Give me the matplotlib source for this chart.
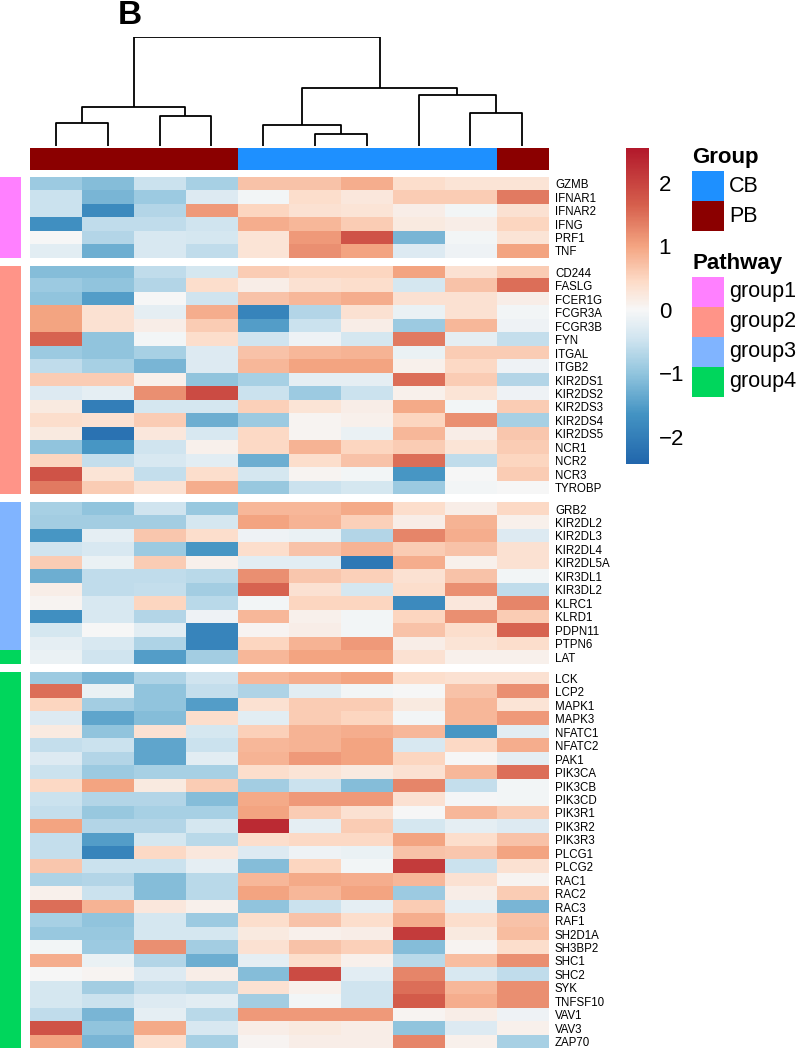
import numpy as np
import matplotlib
matplotlib.use("Agg")
import matplotlib.pyplot as plt
from matplotlib.colors import Normalize, ListedColormap, LinearSegmentedColormap
from matplotlib.patches import Rectangle
import matplotlib.cm as cm

plt.rcParams['font.family'] = ['Liberation Sans', 'DejaVu Sans']

# geni (righe) e pathway
genes = ['GZMB', 'IFNAR1', 'IFNAR2', 'IFNG', 'PRF1', 'TNF',
         'CD244', 'FASLG', 'FCER1G', 'FCGR3A', 'FCGR3B', 'FYN', 'ITGAL', 'ITGB2',
         'KIR2DS1', 'KIR2DS2', 'KIR2DS3', 'KIR2DS4', 'KIR2DS5', 'NCR1', 'NCR2', 'NCR3', 'TYROBP',
         'GRB2', 'KIR2DL2', 'KIR2DL3', 'KIR2DL4', 'KIR2DL5A', 'KIR3DL1', 'KIR3DL2', 'KLRC1',
         'KLRD1', 'PDPN11', 'PTPN6', 'LAT',
         'LCK', 'LCP2', 'MAPK1', 'MAPK3', 'NFATC1', 'NFATC2', 'PAK1', 'PIK3CA', 'PIK3CB',
         'PIK3CD', 'PIK3R1', 'PIK3R2', 'PIK3R3', 'PLCG1', 'PLCG2', 'RAC1', 'RAC2', 'RAC3',
         'RAF1', 'SH2D1A', 'SH3BP2', 'SHC1', 'SHC2', 'SYK', 'TNFSF10', 'VAV1', 'VAV3', 'ZAP70']
pathway = ['group1'] * 6 + ['group2'] * 17 + ['group3'] * 11 + ['group4'] * 29
gaps_row = [6, 23, 35]

# campioni (colonne)
col_group = ['PB', 'PB', 'PB', 'PB', 'CB', 'CB', 'CB', 'CB', 'CB', 'PB']

# valori scalati per riga
values = [
    [-0.9, -1.1, -0.5, -0.8, 0.7, 0.7, 0.9, 0.4, 0.3, 0.3],
    [-0.5, -1.2, -0.9, -0.3, -0.05, 0.4, 0.25, 0.6, 0.6, 1.4],
    [-0.5, -1.8, -0.7, 1.1, 0.5, 0.35, 0.3, 0.15, -0.05, 0.35],
    [-1.7, -0.6, -0.6, -0.45, 0.9, 0.8, 0.6, 0.2, 0.15, 0.5],
    [0.0, -0.7, -0.35, -0.4, 0.3, 1.1, 1.8, -1.2, -0.05, 0.3],
    [-0.25, -1.3, -0.35, -0.6, 0.3, 1.2, 1.0, -0.3, -0.1, 1.0],
    [-1.1, -1.1, -0.6, -0.4, 0.6, 0.5, 0.5, 1.0, 0.35, 0.6],
    [-0.9, -1.0, -0.7, 0.4, 0.15, 0.35, 0.4, -0.4, 0.7, 1.5],
    [-1.0, -1.5, 0.0, -0.45, 0.7, 0.8, 0.9, 0.35, 0.35, 0.15],
    [1.0, 0.35, -0.2, 0.9, -1.9, -0.7, 0.35, -0.15, 0.35, -0.05],
    [1.0, 0.35, 0.15, 0.6, -1.5, -0.5, 0.15, -0.9, 0.8, -0.1],
    [1.6, -1.0, -0.05, 0.4, -0.45, -0.1, -0.4, 1.4, -0.2, -0.55],
    [-0.9, -1.0, -0.8, -0.3, 0.7, 0.8, 0.85, -0.15, 0.6, 0.6],
    [-0.6, -0.8, -1.2, -0.3, 0.8, 1.0, 1.0, 0.1, 0.45, -0.1],
    [0.6, 0.6, 0.1, -1.0, -0.8, -0.2, -0.2, 1.5, 0.6, -0.7],
    [-0.3, -0.2, 1.2, 1.9, -0.5, -0.9, -0.5, 0.1, 0.3, -0.1],
    [0.2, -2.0, -0.4, -0.4, 0.55, 0.3, 0.15, 0.95, -0.05, 0.6],
    [0.4, 0.35, 0.6, -1.3, -0.9, 0.05, 0.1, 0.5, 1.2, -0.8],
    [0.2, -2.2, 0.25, -0.35, 0.45, 0.05, -0.15, 0.8, 0.15, 0.65],
    [-1.0, -1.6, -0.45, 0.1, 0.45, 0.85, 0.5, 0.6, 0.3, 0.6],
    [0.5, -0.55, -0.35, -0.25, -1.3, 0.4, 0.7, 1.5, -0.6, 0.5],
    [1.8, 0.3, -0.55, 0.4, -0.4, 0.05, -0.05, -1.6, 0.0, 0.6],
    [1.4, 0.6, 0.35, 0.9, -0.95, -0.5, -0.4, -0.9, -0.05, 0.0],
    [-0.8, -1.0, -0.45, -0.95, 0.8, 0.8, 0.95, 0.4, 0.15, 0.45],
    [-0.85, -0.85, -0.85, -0.4, 1.0, 0.85, 0.55, 0.15, 0.85, 0.1],
    [-1.6, -0.2, 0.65, 0.4, -0.1, -0.15, -0.7, 1.3, 0.9, -0.3],
    [-0.45, -0.35, -0.9, -1.6, 0.4, 0.7, 0.85, 0.6, 0.7, 0.35],
    [0.6, -0.15, 0.6, 0.1, -0.25, -0.25, -2.1, 0.9, 0.1, 0.35],
    [-1.3, -0.6, -0.6, -0.65, 1.2, 0.65, 0.55, 0.35, 0.7, -0.05],
    [0.15, -0.6, -0.55, -0.85, 1.6, 0.35, -0.4, 0.4, 1.2, -0.6],
    [0.05, -0.35, 0.5, -0.65, -0.05, 0.5, 0.5, -1.8, 0.25, 1.3],
    [-1.7, -0.35, -0.7, -0.1, 0.8, 0.1, -0.05, 0.5, 1.2, 0.6],
    [-0.4, 0.0, -0.25, -1.9, 0.05, 0.15, -0.05, 0.7, 0.4, 1.6],
    [-0.2, -0.35, -0.75, -1.9, 0.5, 0.85, 1.1, 0.15, 0.3, 0.4],
    [-0.15, -0.45, -1.5, -0.85, 0.8, 1.0, 1.0, 0.35, 0.1, 0.1],
    [-0.9, -1.2, -0.75, -0.45, 0.8, 0.9, 1.0, 0.4, 0.35, 0.35],
    [1.5, -0.15, -1.0, -0.55, -0.75, -0.25, -0.05, 0.0, 0.7, 1.2],
    [0.5, -0.85, -1.0, -1.5, 0.35, 0.6, 0.6, 0.2, 0.8, 0.3],
    [-0.3, -1.4, -1.1, 0.4, -0.25, 0.6, 0.5, -0.05, 0.8, 1.1],
    [0.2, -1.0, 0.35, -0.4, 0.55, 0.85, 0.9, 0.8, -1.6, -0.25],
    [-0.55, -0.5, -1.4, -0.5, 0.8, 0.85, 1.0, -0.35, 0.45, 0.9],
    [-0.3, -0.7, -1.4, -0.25, 0.85, 1.1, 1.0, 0.5, 0.0, -0.2],
    [-0.5, -0.9, -0.8, -0.8, 0.4, 0.3, 0.2, 0.35, 0.8, 1.5],
    [0.45, 1.0, 0.2, 0.6, -0.85, -0.5, -1.1, 1.3, -0.55, -0.05],
    [-0.5, -0.7, -0.7, -1.1, 0.95, 1.1, 1.1, 0.35, -0.03, -0.05],
    [-0.55, -0.95, -0.8, -0.8, 1.0, 0.6, 0.35, 0.0, 0.8, 0.6],
    [1.0, -0.7, -0.7, -0.4, 2.3, -0.2, 0.6, -0.4, -0.2, -0.3],
    [-0.55, -1.5, -0.4, -0.65, 0.4, 0.45, 0.45, 1.0, 0.4, 0.7],
    [-0.55, -1.9, 0.45, 0.25, -0.3, -0.1, -0.15, 0.7, 0.65, 1.0],
    [0.65, -0.5, -0.5, -0.2, -1.1, 0.5, -0.05, 2.1, -0.5, 0.35],
    [-0.75, -0.7, -1.1, -0.65, 0.8, 0.95, 0.9, 0.8, 0.35, 0.05],
    [0.1, -0.5, -1.1, -0.65, 1.0, 0.8, 1.0, -0.9, 0.15, 0.6],
    [1.5, 0.85, 0.25, 0.1, -1.0, -0.5, -0.2, 0.6, -0.2, -1.2],
    [-0.8, -1.0, -0.4, -0.9, 0.4, 0.7, 0.4, 0.9, 0.4, 0.7],
    [-0.95, -0.95, -0.4, -0.4, 0.2, 0.1, 0.15, 2.1, 0.2, 0.75],
    [-0.05, -0.9, 1.2, -0.85, 0.35, 0.7, 0.55, -1.1, 0.05, 0.4],
    [0.9, -0.15, -0.7, -1.3, -0.2, 0.4, 0.1, -0.65, 0.75, 1.2],
    [0.0, 0.05, -0.3, 0.15, -1.1, 1.9, -0.25, 1.3, -0.35, -0.6],
    [-0.4, -0.85, -0.55, -0.65, 0.35, 0.1, -0.45, 1.5, 0.8, 1.2],
    [-0.4, -0.5, -0.3, -0.25, -0.85, -0.05, -0.45, 1.7, 0.9, 1.2],
    [-0.6, -1.2, -0.2, -0.65, 1.1, 1.1, 1.1, 0.05, 0.15, -0.1],
    [1.8, -1.0, 0.95, -0.35, 0.15, 0.2, 0.15, -1.0, -0.3, 0.1],
    [1.0, -1.2, 0.4, -0.8, 0.05, 0.15, 0.15, 1.3, 0.1, -0.8],
]

# dendrogramma colonne: (sinistra, destra, altezza); foglie 0..9, nodi da 10
merge_left = [5, 4, 0, 2, 8, 12, 7, 11, 15]
merge_right = [6, 10, 1, 3, 9, 13, 14, 16, 17]
merge_height = [39, 65, 73, 93, 103, 123, 160, 183, 343]

group_colors = {'CB': '#1E90FF', 'PB': '#8B0000'}
pathway_colors = {'group1': '#FF80FF', 'group2': '#FF9488',
                  'group3': '#80B4FF', 'group4': '#00D65C'}

W, H = 798, 1050
fig = plt.figure(figsize=(W / 100, H / 100), dpi=100)


def add_ax(x0, y0, w, h):
    return fig.add_axes([x0 / W, 1 - (y0 + h) / H, w / W, h / H])


# palette RdBu invertita, nodi in unita' del valore
vmin, vmax = -2.43, 2.55
norm = Normalize(vmin=vmin, vmax=vmax)
nodes = [vmin, -1.65, -1.0, -0.45, 0.0, 0.45, 1.0, 1.65, vmax]
node_cols = ['#2166AC', '#4393C3', '#92C5DE', '#D1E5F0', '#F7F7F7',
             '#FDDBC7', '#F4A582', '#D6604D', '#B2182B']
cmap = LinearSegmentedColormap.from_list('rdbu', [(float(norm(v)), c) for v, c in zip(nodes, node_cols)])

data = np.array(values)
ncol = data.shape[1]

hm_x0, hm_w = 30, 518
row_h = 13.45
gap = 8
top = 177

# blocchi della heatmap separati dai gap
bounds = [0] + gaps_row + [len(genes)]
y = top
path_names = list(pathway_colors.keys())
path_cmap = ListedColormap([pathway_colors[p] for p in path_names])
for b0, b1 in zip(bounds[:-1], bounds[1:]):
    n = b1 - b0
    h = n * row_h
    ax = add_ax(hm_x0, y, hm_w, h)
    ax.imshow(data[b0:b1], cmap=cmap, norm=norm, aspect='auto', interpolation='nearest')
    ax.set_xticks([])
    ax.yaxis.tick_right()
    ax.set_yticks(range(n))
    ax.set_yticklabels(genes[b0:b1], fontsize=8.3)
    ax.tick_params(axis='y', length=0, pad=5)
    for s in ax.spines.values():
        s.set_visible(False)

    # annotazione pathway
    axp = add_ax(0, y, 21, h)
    idx = np.array([[path_names.index(p)] for p in pathway[b0:b1]])
    axp.imshow(idx, cmap=path_cmap, vmin=-0.5, vmax=len(path_names) - 0.5,
               aspect='auto', interpolation='nearest')
    axp.axis('off')
    y += h + gap

# annotazione gruppo (colonne)
axg = add_ax(hm_x0, 148, hm_w, 22)
gnames = list(group_colors.keys())
gcmap = ListedColormap([group_colors[g] for g in gnames])
axg.imshow([[gnames.index(g) for g in col_group]], cmap=gcmap, vmin=-0.5, vmax=1.5,
           aspect='auto', interpolation='nearest')
axg.axis('off')

# dendrogramma
axd = add_ax(hm_x0, 37, hm_w, 109)
pos = {i: i + 0.5 for i in range(ncol)}
hgt = {i: 0.0 for i in range(ncol)}
for k, (l, r, hh) in enumerate(zip(merge_left, merge_right, merge_height)):
    node = ncol + k
    axd.plot([pos[l], pos[l], pos[r], pos[r]], [hgt[l], hh, hh, hgt[r]],
             color='black', lw=1.3, solid_capstyle='butt')
    pos[node] = (pos[l] + pos[r]) / 2
    hgt[node] = hh
axd.set_xlim(0, ncol)
axd.set_ylim(0, max(merge_height))
axd.axis('off')

fig.text(130 / W, 1 - 16 / H, 'B', fontsize=24, fontweight='bold', ha='center', va='center')

# barra colori
cax = add_ax(626, 148, 23, 316)
cb = fig.colorbar(cm.ScalarMappable(norm=norm, cmap=cmap), cax=cax, ticks=[-2, -1, 0, 1, 2])
cb.outline.set_visible(False)
cax.tick_params(length=0, labelsize=16, pad=7)

# legenda
axl = add_ax(680, 140, 118, 280)
axl.set_xlim(680, 798)
axl.set_ylim(420, 140)
axl.axis('off')
axl.text(692, 158, 'Group', fontsize=16, fontweight='bold', va='center')
yy = 171
for g in gnames:
    axl.add_patch(Rectangle((692, yy), 32, 30, facecolor=group_colors[g], edgecolor='none'))
    axl.text(729, yy + 15, g, fontsize=15.5, va='center')
    yy += 30
axl.text(692, 263, 'Pathway', fontsize=16, fontweight='bold', va='center')
yy = 277
for p in path_names:
    axl.add_patch(Rectangle((692, yy), 32, 30, facecolor=pathway_colors[p], edgecolor='none'))
    axl.text(729, yy + 15, p, fontsize=15.5, va='center')
    yy += 30

fig.savefig('out.png', dpi=100)
